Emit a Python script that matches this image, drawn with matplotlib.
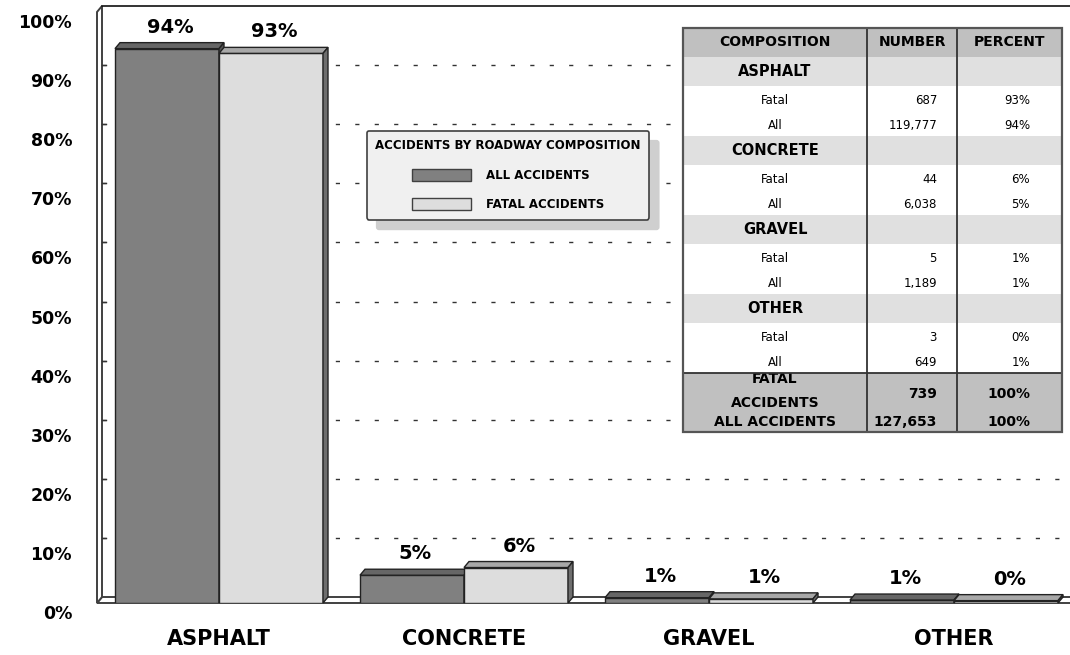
import matplotlib
matplotlib.use("Agg")
import matplotlib.pyplot as plt
from matplotlib.patches import Polygon, Rectangle
from matplotlib.transforms import ScaledTranslation

# ---------------- data ----------------
categories = ["ASPHALT", "CONCRETE", "GRAVEL", "OTHER"]
all_pct = [93.8, 4.7, 0.9, 0.5]
fatal_pct = [93.0, 6.0, 0.7, 0.4]
all_labels = ["94%", "5%", "1%", "1%"]
fatal_labels = ["93%", "6%", "1%", "0%"]
yticks = [0, 10, 20, 30, 40, 50, 60, 70, 80, 90, 100]
ytick_labels = ["0%", "10%", "20%", "30%", "40%", "50%", "60%", "70%", "80%", "90%", "100%"]
series_names = ["ALL ACCIDENTS", "FATAL ACCIDENTS"]
legend_title = "ACCIDENTS BY ROADWAY COMPOSITION"

table_header = ["COMPOSITION", "NUMBER", "PERCENT"]
fatal_counts = ["687", "44", "5", "3"]
fatal_pcts = ["93%", "6%", "1%", "0%"]
all_counts = ["119,777", "6,038", "1,189", "649"]
all_pcts = ["94%", "5%", "1%", "1%"]
total_fatal = ["FATAL", "ACCIDENTS", "739", "100%"]
total_all = ["ALL ACCIDENTS", "127,653", "100%"]

# ---------------- styles ----------------
DARK_FRONT, DARK_TOP, DARK_SIDE = "#808080", "#666666", "#555555"
LIGHT_FRONT, LIGHT_TOP, LIGHT_SIDE = "#dddddd", "#a8a8a8", "#6e6e6e"
EDGE = "#222222"
FONT = "DejaVu Sans"

W, H = 1070, 655
fig = plt.figure(figsize=(W / 100, H / 100), dpi=100)
fig.patch.set_facecolor("white")

# front plane: category i at pixel 219 + 245*i ; 0% at y=603, 100% at y=12
ax = fig.add_axes([97 / W, (H - 603) / H, (1070 - 97) / W, 591 / H])
ax.set_xlim((97 - 219) / 245, (1070 - 219) / 245)
ax.set_ylim(0, 100)
for s in ax.spines.values():
    s.set_visible(False)
ax.patch.set_alpha(0)

x0, x1 = ax.get_xlim()
ppx = ax.bbox.width / (x1 - x0)      # pixels per category unit
ppy = ax.bbox.height / 100.0         # pixels per percent
dx = 5 / ppx
dy = 6 / ppy
bw = 104 / ppx

# floor and wall
ax.add_patch(Polygon([(x0, 0), (x1 + 1, 0), (x1 + 1, dy), (x0 + dx, dy)],
                     closed=True, fc="white", ec="#404040", lw=1.4,
                     clip_on=False, zorder=1))
ax.add_patch(Polygon([(x0, 0), (x0 + dx, dy), (x0 + dx, 100 + dy), (x0, 100)],
                     closed=True, fc="white", ec="#404040", lw=1.4,
                     clip_on=False, zorder=1))
ax.plot([x0 + dx, x1 + 1], [100 + dy, 100 + dy], color="#111111", lw=1.2,
        clip_on=False, zorder=1)
for v in yticks[1:-1]:
    ax.plot([x0 + dx, x1], [v + dy, v + dy], color="#333333", lw=1,
            dashes=(3, 11), clip_on=False, zorder=1)
    ax.plot([x0 + dx, x0 + dx + 4 / ppx], [v + dy, v + dy], color="#333333",
            lw=1, clip_on=False, zorder=1)


def bars3d(xs, hs, front, top, side, label):
    rects = ax.bar(xs, hs, width=bw, align="edge", color=front, edgecolor=EDGE,
                   lw=1, zorder=3, label=label)
    for r in rects:
        a, h, w = r.get_x(), r.get_height(), r.get_width()
        ax.add_patch(Polygon([(a, h), (a + w, h), (a + w + dx, h + dy), (a + dx, h + dy)],
                             closed=True, fc=top, ec=EDGE, lw=1, zorder=3, clip_on=False))
        ax.add_patch(Polygon([(a + w, 0), (a + w + dx, dy), (a + w + dx, h + dy), (a + w, h)],
                             closed=True, fc=side, ec=EDGE, lw=1, zorder=3, clip_on=False))
    return rects


xpos = list(range(len(categories)))
for i in xpos:
    bars3d([i - bw], [all_pct[i]], DARK_FRONT, DARK_TOP, DARK_SIDE, None)
    bars3d([i], [fatal_pct[i]], LIGHT_FRONT, LIGHT_TOP, LIGHT_SIDE, None)

for i in xpos:
    ax.annotate(all_labels[i], (i - bw / 2, all_pct[i]), xytext=(3.5, 16),
                textcoords="offset pixels", ha="center", va="baseline",
                fontsize=14, fontweight="bold", family=FONT, zorder=4)
    ax.annotate(fatal_labels[i], (i + bw / 2, fatal_pct[i]), xytext=(3.5, 16),
                textcoords="offset pixels", ha="center", va="baseline",
                fontsize=14, fontweight="bold", family=FONT, zorder=4)

# axes tick labels
ax.set_yticks(yticks, ytick_labels)
ax.set_xticks(xpos, categories)
ax.tick_params(axis="y", length=0, pad=18, labelsize=12.5)
ax.tick_params(axis="x", length=0, pad=19, labelsize=15)
for lbl in ax.get_yticklabels():
    lbl.set_fontweight("bold")
    lbl.set_family(FONT)
    lbl.set_transform(lbl.get_transform() + ScaledTranslation(0, -9 / 100, fig.dpi_scale_trans))
for lbl in ax.get_xticklabels():
    lbl.set_fontweight("bold")
    lbl.set_family(FONT)

# legend
handles = [Rectangle((0, 0), 1, 1, fc=DARK_FRONT, ec="#404040"),
           Rectangle((0, 0), 1, 1, fc=LIGHT_FRONT, ec="#404040")]
leg = ax.legend(handles, series_names, title=legend_title,
                loc="upper left", bbox_to_anchor=(367 / W, 1 - 131 / H),
                bbox_transform=fig.transFigure, borderaxespad=0,
                prop={"family": FONT, "weight": "bold", "size": 8.5},
                title_fontproperties={"family": FONT, "weight": "bold", "size": 8.5},
                handlelength=5.0, handleheight=1.2, labelspacing=1.4,
                handletextpad=1.3, borderpad=0.7, fancybox=True,
                shadow={"ox": 7, "oy": -7, "color": "#cfcfcf", "alpha": 1},
                framealpha=1, facecolor="#f0f0f0", edgecolor="#404040")
leg.get_frame().set_linewidth(1.2)
leg.set_zorder(6)

# table
tax = fig.add_axes([683 / W, (H - 432) / H, (1062 - 683) / W, (432 - 28) / H], zorder=5)
tax.set_xlim(0, 379)
tax.set_ylim(404, 0)
tax.axis("off")
col_edges = [0, 184, 274, 379]
c1 = (col_edges[0] + col_edges[1]) / 2
num_r = col_edges[2] - 20
pct_r = col_edges[3] - 32
HDR, GRP, SUB, TOT = 29, 29, 25, 59

def band(y, h, color):
    tax.add_patch(Rectangle((0, y), 379, h, fc=color, ec="none", zorder=1))

y = 0
band(y, HDR, "#c0c0c0")
tax.text(c1, y + HDR / 2, table_header[0], ha="center", va="center", fontsize=10,
         fontweight="bold", family=FONT)
tax.text((col_edges[1] + col_edges[2]) / 2, y + HDR / 2, table_header[1], ha="center",
         va="center", fontsize=10, fontweight="bold", family=FONT)
tax.text((col_edges[2] + col_edges[3]) / 2, y + HDR / 2, table_header[2], ha="center",
         va="center", fontsize=10, fontweight="bold", family=FONT)
y += HDR
for i, cat in enumerate(categories):
    band(y, GRP, "#e0e0e0")
    tax.text(c1, y + GRP / 2, cat, ha="center", va="center", fontsize=10.5,
             fontweight="bold", family=FONT)
    y += GRP
    band(y, 2 * SUB, "white")
    for name, cnt, pct in (("Fatal", fatal_counts[i], fatal_pcts[i]),
                           ("All", all_counts[i], all_pcts[i])):
        tax.text(c1, y + SUB / 2 + 2, name, ha="center", va="center", fontsize=8.5, family=FONT)
        tax.text(num_r, y + SUB / 2 + 2, cnt, ha="right", va="center", fontsize=8.5, family=FONT)
        tax.text(pct_r, y + SUB / 2 + 2, pct, ha="right", va="center", fontsize=8.5, family=FONT)
        y += SUB
ytot = y
band(y, TOT, "#c0c0c0")
tax.text(c1, y + 6, total_fatal[0], ha="center", va="center", fontsize=10,
         fontweight="bold", family=FONT)
tax.text(c1, y + 30, total_fatal[1], ha="center", va="center", fontsize=10,
         fontweight="bold", family=FONT)
tax.text(num_r, y + 21, total_fatal[2], ha="right", va="center", fontsize=10,
         fontweight="bold", family=FONT)
tax.text(pct_r, y + 21, total_fatal[3], ha="right", va="center", fontsize=10,
         fontweight="bold", family=FONT)
tax.text(c1, y + 49, total_all[0], ha="center", va="center", fontsize=10,
         fontweight="bold", family=FONT)
tax.text(num_r, y + 49, total_all[1], ha="right", va="center", fontsize=10,
         fontweight="bold", family=FONT)
tax.text(pct_r, y + 49, total_all[2], ha="right", va="center", fontsize=10,
         fontweight="bold", family=FONT)
# grid lines of table
for cx in col_edges[1:-1]:
    tax.plot([cx, cx], [0, 404], color="#333333", lw=1.3, zorder=3)
tax.plot([0, 379], [ytot, ytot], color="#333333", lw=1.3, zorder=3)
tax.add_patch(Rectangle((0, 0), 379, 404, fc="none", ec="#555555", lw=1.6, zorder=4,
                        clip_on=False))

fig.savefig("out.png", dpi=100)
